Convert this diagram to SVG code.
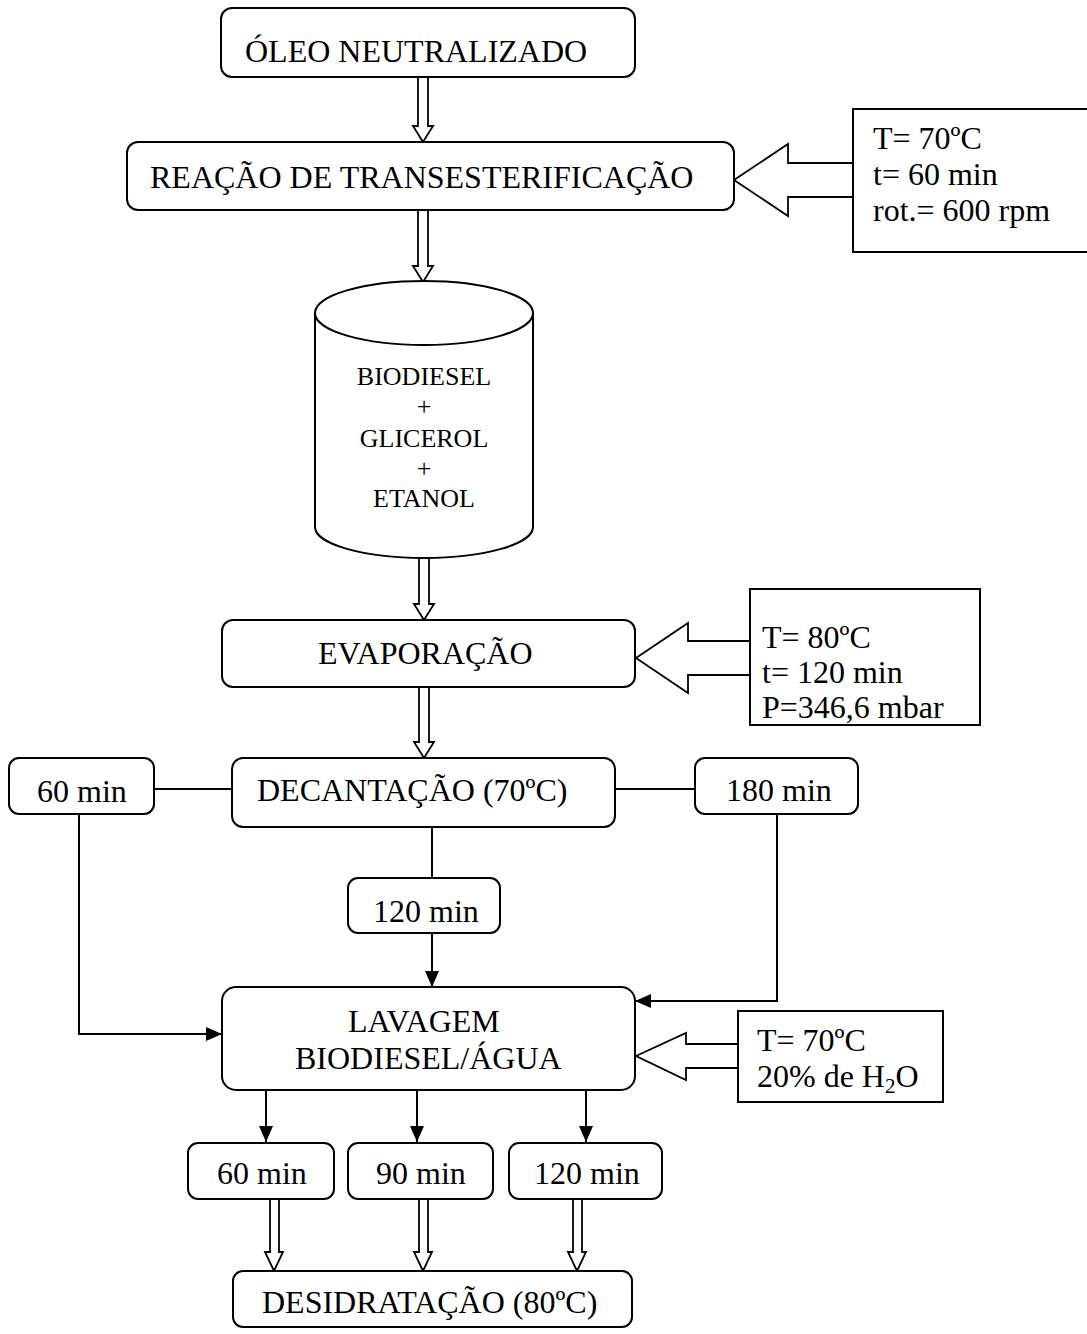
<svg xmlns="http://www.w3.org/2000/svg" width="1087" height="1334" viewBox="0 0 1087 1334">
  <defs>
    <style>
      .box { fill: #fff; stroke: #000; stroke-width: 2; }
      .hollow { fill: #fff; stroke: #000; stroke-width: 1.8; stroke-linejoin: miter; }
      .line { fill: none; stroke: #000; stroke-width: 2; }
      .t { font-family: "Liberation Serif", "Times New Roman", serif; font-size: 32px; fill: #000; }
      .ts { font-family: "Liberation Serif", "Times New Roman", serif; font-size: 26px; fill: #000; }
    </style>
    <marker id="head" viewBox="0 0 16 14" refX="16" refY="7" markerWidth="16" markerHeight="14" markerUnits="userSpaceOnUse" orient="auto">
      <path d="M0,0 L16,7 L0,14 Z" fill="#000"/>
    </marker>
  </defs>

  <rect width="1087" height="1334" fill="#fff"/>

  <!-- wide hollow arrows feeding process conditions into the steps -->
  <g id="condition-arrows">
    <polygon class="hollow" points="734,180 788,144 788,163 853,163 853,197 788,197 788,216"/>
    <polygon class="hollow" points="636,658 688,623 688,641 750,641 750,675 688,675 688,693"/>
    <polygon class="hollow" points="636,1056 686,1033 686,1044 738,1044 738,1068 686,1068 686,1080"/>
  </g>

  <!-- connectors -->
  <g id="connectors">
    <!-- hollow flow arrows along the main line -->
    <polygon class="hollow" points="418,77 428,77 428,126 433,126 423,142 413,126 418,126"/>
    <polygon class="hollow" points="418,210 428,210 428,266 433,266 423,282 413,266 418,266"/>
    <polygon class="hollow" points="419,558 429,558 429,604 434,604 424,620 414,604 419,604"/>
    <polygon class="hollow" points="419,687 429,687 429,742 434,742 424,758 414,742 419,742"/>
    <polygon class="hollow" points="270,1199 279,1199 279,1252 283,1252 274,1271 265,1252 270,1252"/>
    <polygon class="hollow" points="419,1199 428,1199 428,1252 432,1252 423,1271 414,1252 419,1252"/>
    <polygon class="hollow" points="573,1199 582,1199 582,1252 586,1252 577,1271 568,1252 573,1252"/>

    <!-- decantation branches -->
    <line class="line" x1="154" y1="789" x2="232" y2="789"/>
    <line class="line" x1="615" y1="789" x2="695" y2="789"/>
    <line class="line" x1="432" y1="827" x2="432" y2="878"/>
    <polyline class="line" points="79,814 79,1034 222,1034" marker-end="url(#head)"/>
    <line class="line" x1="432" y1="933" x2="432" y2="987" marker-end="url(#head)"/>
    <polyline class="line" points="777,814 777,1001 635,1001" marker-end="url(#head)"/>

    <!-- washing times -->
    <line class="line" x1="266" y1="1090" x2="266" y2="1142" marker-end="url(#head)"/>
    <line class="line" x1="417" y1="1090" x2="417" y2="1142" marker-end="url(#head)"/>
    <line class="line" x1="586" y1="1090" x2="586" y2="1142" marker-end="url(#head)"/>
  </g>

  <!-- process steps -->
  <g id="oleo">
    <rect class="box" x="221" y="8" width="414" height="69" rx="11"/>
    <text class="t" x="245" y="62">ÓLEO NEUTRALIZADO</text>
  </g>

  <g id="reacao">
    <rect class="box" x="127" y="142" width="607" height="68" rx="11"/>
    <text class="t" x="150" y="188">REAÇÃO DE TRANSESTERIFICAÇÃO</text>
  </g>

  <g id="cond-reacao">
    <rect class="box" x="853" y="109" width="250" height="143"/>
    <text class="t" x="873" y="149">T= 70ºC</text>
    <text class="t" x="873" y="185">t= 60 min</text>
    <text class="t" x="873" y="221">rot.= 600 rpm</text>
  </g>

  <g id="mistura">
    <path class="box" d="M315,313 L315,527 A109,31 0 0 0 533,527 L533,313"/>
    <ellipse class="box" cx="424" cy="313" rx="109" ry="32"/>
    <text class="ts" x="424" y="385" text-anchor="middle">BIODIESEL</text>
    <text class="ts" x="424" y="415" text-anchor="middle">+</text>
    <text class="ts" x="424" y="447" text-anchor="middle">GLICEROL</text>
    <text class="ts" x="424" y="477" text-anchor="middle">+</text>
    <text class="ts" x="424" y="507" text-anchor="middle">ETANOL</text>
  </g>

  <g id="evaporacao">
    <rect class="box" x="222" y="620" width="413" height="67" rx="11"/>
    <text class="t" x="318" y="664">EVAPORAÇÃO</text>
  </g>

  <g id="cond-evaporacao">
    <rect class="box" x="750" y="589" width="230" height="136"/>
    <text class="t" x="762" y="648">T= 80ºC</text>
    <text class="t" x="762" y="683">t= 120 min</text>
    <text class="t" x="762" y="718">P=346,6 mbar</text>
  </g>

  <g id="decantacao">
    <rect class="box" x="232" y="758" width="383" height="69" rx="11"/>
    <text class="t" x="257" y="801">DECANTAÇÃO (70ºC)</text>
  </g>

  <g id="dec-60">
    <rect class="box" x="9" y="758" width="145" height="56" rx="10"/>
    <text class="t" x="37" y="802">60 min</text>
  </g>

  <g id="dec-120">
    <rect class="box" x="348" y="878" width="152" height="55" rx="10"/>
    <text class="t" x="373" y="922">120 min</text>
  </g>

  <g id="dec-180">
    <rect class="box" x="695" y="758" width="163" height="56" rx="10"/>
    <text class="t" x="726" y="801">180 min</text>
  </g>

  <g id="lavagem">
    <rect class="box" x="222" y="987" width="413" height="103" rx="14"/>
    <text class="t" x="348" y="1032">LAVAGEM</text>
    <text class="t" x="295" y="1069">BIODIESEL/ÁGUA</text>
  </g>

  <g id="cond-lavagem">
    <rect class="box" x="738" y="1011" width="205" height="91"/>
    <text class="t" x="757" y="1051">T= 70ºC</text>
    <text class="t" x="757" y="1087">20% de H<tspan font-size="21" dy="6">2</tspan><tspan dy="-6">O</tspan></text>
  </g>

  <g id="lav-60">
    <rect class="box" x="188" y="1143" width="146" height="56" rx="10"/>
    <text class="t" x="217" y="1184">60 min</text>
  </g>

  <g id="lav-90">
    <rect class="box" x="348" y="1143" width="145" height="56" rx="10"/>
    <text class="t" x="376" y="1184">90 min</text>
  </g>

  <g id="lav-120">
    <rect class="box" x="509" y="1143" width="153" height="56" rx="10"/>
    <text class="t" x="534" y="1184">120 min</text>
  </g>

  <g id="desidratacao">
    <rect class="box" x="233" y="1271" width="399" height="56" rx="10"/>
    <text class="t" x="262" y="1313">DESIDRATAÇÃO (80ºC)</text>
  </g>
</svg>
